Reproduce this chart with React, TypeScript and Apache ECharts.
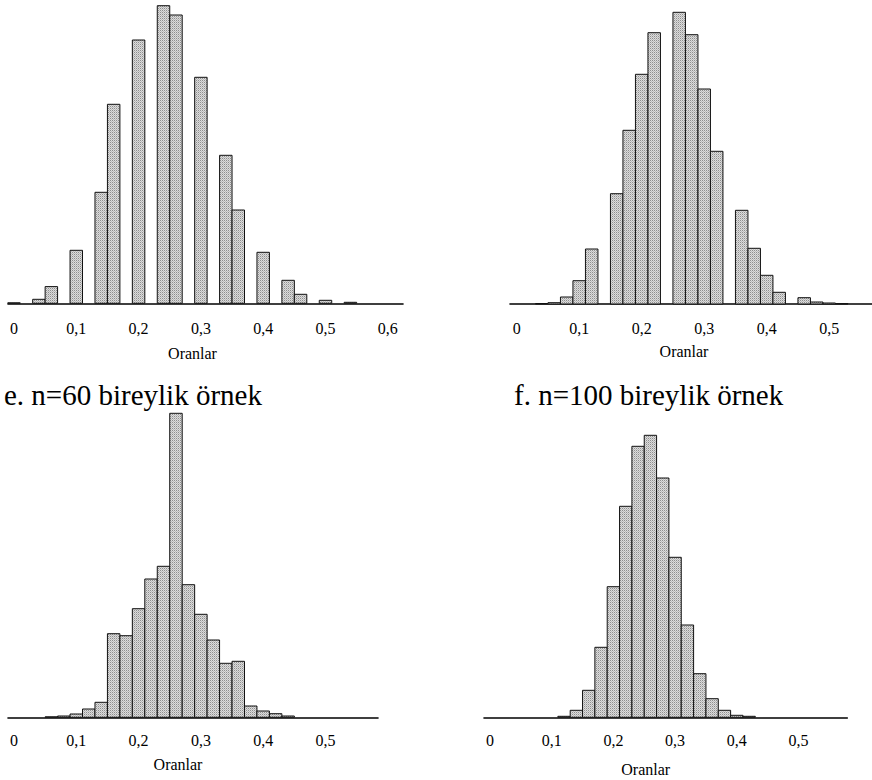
import React, { useEffect, useRef } from "react";
import * as echarts from "echarts";

// ---- data (bin centres are sample proportions, bin width 0.02; heights = relative frequency, arbitrary units) ----
const binWidth = 0.02;

// top-left panel
const tlCenters = [0.0, 0.04, 0.06, 0.1, 0.14, 0.16, 0.2, 0.24, 0.26, 0.3, 0.34, 0.36, 0.4, 0.44, 0.46, 0.5, 0.54];
const tlHeights = [0.5, 4, 16.7, 53, 111, 199, 263.3, 297.6, 288.3, 226, 148, 93.3, 51, 23, 9, 3, 1];

// top-right panel
const trCenters = [0.04, 0.06, 0.08, 0.1, 0.12, 0.16, 0.18, 0.2, 0.22, 0.26, 0.28, 0.3, 0.32, 0.36, 0.38, 0.4, 0.42, 0.46, 0.48, 0.5, 0.52];
const trHeights = [0.5, 1.3, 7, 23.3, 55, 110.3, 173.7, 229.7, 271.3, 291.7, 269.3, 215, 152.7, 93.7, 55.7, 28.7, 11.7, 6.3, 2, 1, 0.4];

// e. n=60
const blCenters = [0.06, 0.08, 0.1, 0.12, 0.14, 0.16, 0.18, 0.2, 0.22, 0.24, 0.26, 0.28, 0.3, 0.32, 0.34, 0.36, 0.38, 0.4, 0.42, 0.44];
const blHeights = [0.5, 1.3, 3.3, 8.3, 15, 83.6, 81.6, 108.6, 138.3, 151, 304, 132.6, 103, 77.3, 54, 56, 11.3, 6.3, 3.6, 1.3];

// f. n=100
const brCenters = [0.12, 0.14, 0.16, 0.18, 0.2, 0.22, 0.24, 0.26, 0.28, 0.3, 0.32, 0.34, 0.36, 0.38, 0.4, 0.42];
const brHeights = [1, 7, 27, 70, 130.6, 211, 271, 282, 239.3, 160, 92.3, 43.6, 18.6, 7, 2, 1];

// tick labels
const tickValuesTL = [0, 0.1, 0.2, 0.3, 0.4, 0.5, 0.6];
const tickLabelsTL = ["0", "0,1", "0,2", "0,3", "0,4", "0,5", "0,6"];
const tickValuesOther = [0, 0.1, 0.2, 0.3, 0.4, 0.5];
const tickLabelsOther = ["0", "0,1", "0,2", "0,3", "0,4", "0,5"];

const titleE = "e. n=60 bireylik örnek";
const titleF = "f. n=100 bireylik örnek";
const axisName = "Oranlar";

const FONT = "Liberation Serif";

function makePattern(): any {
  const c = document.createElement("canvas");
  c.width = 2;
  c.height = 2;
  const ctx = c.getContext("2d")!;
  ctx.fillStyle = "#dcdcdc";
  ctx.fillRect(0, 0, 2, 2);
  ctx.fillStyle = "#8e8e8e";
  ctx.fillRect(0, 0, 1, 1);
  ctx.fillStyle = "#bababa";
  ctx.fillRect(1, 1, 1, 1);
  return { image: c, repeat: "repeat" };
}

export default function App() {
  const ref = useRef<HTMLDivElement>(null);

  useEffect(() => {
    if (!ref.current) return;
    const chart = echarts.init(ref.current, undefined, { renderer: "svg" });
    const pattern = makePattern();

    const panels = [
      { centers: tlCenters, heights: tlHeights, ticks: tickValuesTL, labels: tickLabelsTL,
        left: 8, width: 395, baseline: 303.3, ymax: 300, xmin: -0.0096, xmax: 0.6244, margin: 17 },
      { centers: trCenters, heights: trHeights, ticks: tickValuesOther, labels: tickLabelsOther,
        left: 510, width: 362, baseline: 304, ymax: 300, xmin: -0.0107, xmax: 0.5685, margin: 16 },
      { centers: blCenters, heights: blHeights, ticks: tickValuesOther, labels: tickLabelsOther,
        left: 8, width: 370, baseline: 717.3, ymax: 310, xmin: -0.0096, xmax: 0.5843, margin: 15 },
      { centers: brCenters, heights: brHeights, ticks: tickValuesOther, labels: tickLabelsOther,
        left: 484, width: 363.3, baseline: 717.3, ymax: 300, xmin: -0.0097, xmax: 0.5791, margin: 15 },
    ];

    const grid: any[] = [];
    const xAxis: any[] = [];
    const yAxis: any[] = [];
    const series: any[] = [];

    panels.forEach((p, i) => {
      grid.push({
        left: p.left,
        top: p.baseline - p.ymax,
        width: p.width,
        height: p.ymax,
        containLabel: false,
        outerBoundsMode: "none",
      });
      xAxis.push({
        type: "value",
        gridIndex: i,
        min: p.xmin,
        max: p.xmax,
        splitLine: { show: false },
        axisTick: { show: false },
        axisLine: { show: true, onZero: false, lineStyle: { color: "#000", width: 1.6 } },
        axisLabel: {
          show: true,
          customValues: p.ticks,
          margin: p.margin,
          color: "#000",
          fontSize: 16,
          fontFamily: FONT,
          formatter: (v: number) => {
            const k = p.ticks.findIndex((t) => Math.abs(t - v) < 1e-6);
            return k >= 0 ? p.labels[k] : "";
          },
        },
      });
      yAxis.push({
        type: "value",
        gridIndex: i,
        min: 0,
        max: p.ymax,
        show: false,
        splitLine: { show: false },
      });
      series.push({
        type: "custom",
        xAxisIndex: i,
        yAxisIndex: i,
        clip: false,
        encode: { x: 0, y: 1 },
        data: p.centers.map((c, j) => [c, p.heights[j]]),
        renderItem: (params: any, api: any) => {
          const c = api.value(0);
          const h = api.value(1);
          const p0 = api.coord([c - binWidth / 2, h]);
          const p1 = api.coord([c + binWidth / 2, 0]);
          return {
            type: "rect",
            shape: { x: p0[0], y: p0[1], width: p1[0] - p0[0], height: p1[1] - p0[1] },
            style: { fill: pattern, stroke: "#111", lineWidth: 1 },
          };
        },
      });
    });

    const txt = (text: string, x: number, y: number, size: number, align: string) => ({
      type: "text",
      x,
      y,
      style: {
        text,
        font: `${size}px ${FONT}`,
        fill: "#000",
        align,
        verticalAlign: "middle",
        textAlign: align,
        textVerticalAlign: "middle",
      },
    });

    chart.setOption({
      animation: false,
      backgroundColor: "#fff",
      grid,
      xAxis,
      yAxis,
      series,
      graphic: [
        txt(titleE, 4, 395, 29, "left"),
        txt(titleF, 514, 395, 29, "left"),
        txt(axisName, 192.5, 353.5, 16, "center"),
        txt(axisName, 684, 351.7, 16, "center"),
        txt(axisName, 178, 764, 16, "center"),
        txt(axisName, 645.7, 769, 16, "center"),
      ],
    });

    return () => chart.dispose();
  }, []);

  return (
    <div
      ref={ref}
      style={{ position: "absolute", left: 0, top: 0, width: 872, height: 780 }}
    />
  );
}
